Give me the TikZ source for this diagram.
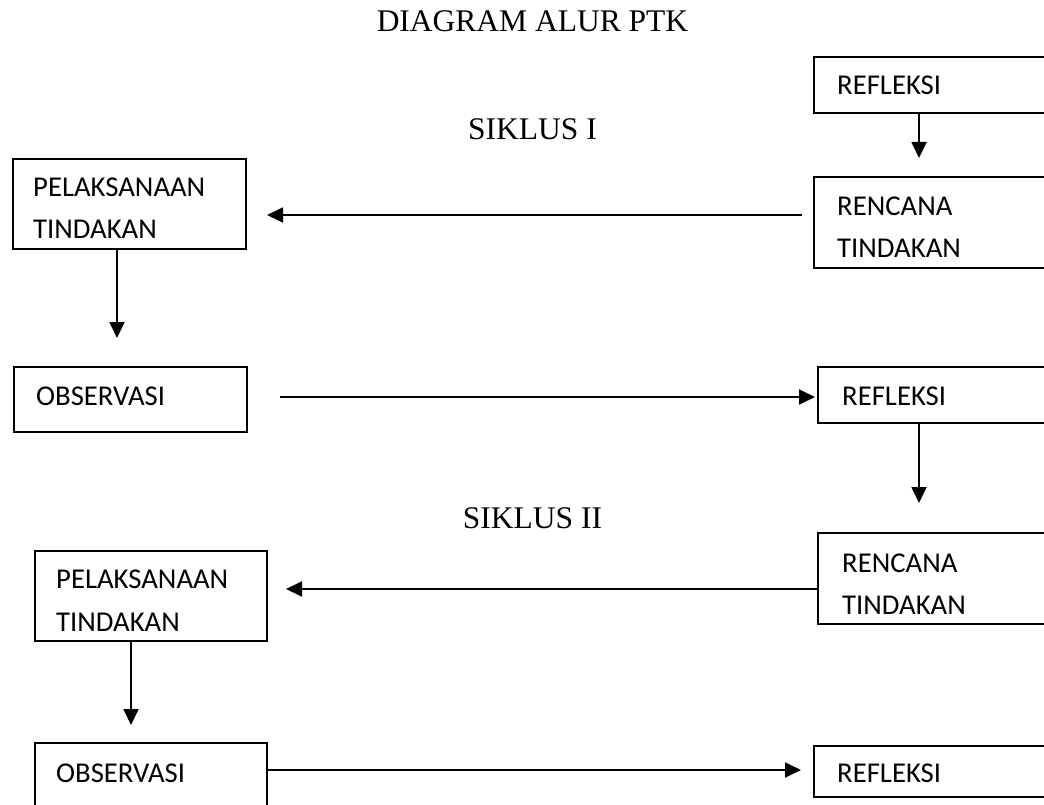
\documentclass[tikz,border=0pt]{standalone}
\usepackage{fontspec}
\setmainfont{Liberation Serif}
\newfontfamily\boxfont{Carlito}
\usetikzlibrary{arrows.meta}
\begin{document}
\begin{tikzpicture}[x=1pt,y=-1pt,
  box/.style={draw, line width=1.8pt, inner sep=0pt, outer sep=0pt, anchor=north west},
  lbl/.style={anchor=base west, inner sep=0pt, font=\boxfont\fontsize{28.7}{28.7}\selectfont},
  ttl/.style={anchor=base, inner sep=0pt, font=\fontsize{31.5}{31.5}\selectfont},
  arr/.style={line width=1.8pt, -{Triangle[length=16pt,width=15pt]}}]
\clip (0,0) rectangle (1044,805);
\fill[white] (0,0) rectangle (1044,805);
% titles
\node[ttl] (title) at (532.5,32) {DIAGRAM ALUR PTK};
\node[ttl] (s1) at (532.5,140) {SIKLUS I};
\node[ttl] (s2) at (532.5,528) {SIKLUS II};
% boxes
\node[box, minimum width=233pt, minimum height=90pt] (P1) at (13,159) {};
\node[box, minimum width=233pt, minimum height=65pt] (O1) at (14,367) {};
\node[box, minimum width=240pt, minimum height=56pt] (R1) at (814,57) {};
\node[box, minimum width=240pt, minimum height=91pt] (RT1) at (814,177) {};
\node[box, minimum width=236pt, minimum height=56pt] (R2) at (818,367) {};
\node[box, minimum width=236pt, minimum height=91pt] (RT2) at (818,533) {};
\node[box, minimum width=232pt, minimum height=90pt] (P2) at (35,551) {};
\node[box, minimum width=232pt, minimum height=80pt] (O2) at (35,743) {};
\node[box, minimum width=240pt, minimum height=51pt] (R3) at (814,746) {};
% texts
\node[lbl] (P1a) at (33,197) {PELAKSANAAN};
\node[lbl] (P1b) at (33,238) {TINDAKAN};
\node[lbl] (O1a) at (36,405) {OBSERVASI};
\node[lbl] (R1a) at (837,95) {REFLEKSI};
\node[lbl] (RT1a) at (837,216) {RENCANA};
\node[lbl] (RT1b) at (837,257) {TINDAKAN};
\node[lbl] (R2a) at (842,405) {REFLEKSI};
\node[lbl] (RT2a) at (842,572) {RENCANA};
\node[lbl] (RT2b) at (842,614) {TINDAKAN};
\node[lbl] (P2a) at (56,588) {PELAKSANAAN};
\node[lbl] (P2b) at (56,631) {TINDAKAN};
\node[lbl] (O2a) at (56,782) {OBSERVASI};
\node[lbl] (R3a) at (837,782) {REFLEKSI};
% connector helper points
\coordinate (c1) at ([xshift=-15pt]R1.south);
\coordinate (c2) at ([yshift=7.5pt]RT1.west);
\coordinate (c3) at ([xshift=-12.5pt]P1.south);
\coordinate (c4) at ([yshift=2.5pt]O1.east);
\coordinate (c5) at ([xshift=-17pt]R2.south);
\coordinate (c6) at ([yshift=-10.5pt]RT2.west);
\coordinate (c7) at ([xshift=-20pt]P2.south);
\coordinate (c8) at ([yshift=13pt]O2.east);
% connectors
\draw[arr, shorten >=19pt] (c1) -- (c1 |- RT1.north);
\draw[arr, shorten <=12pt, shorten >=21pt] (c2) -- (c2 -| P1.east);
\draw[arr, shorten >=29pt] (c3) -- (c3 |- O1.north);
\draw[arr, shorten <=33pt, shorten >=3pt] (c4) -- (c4 -| R2.west);
\draw[arr, shorten >=30pt] (c5) -- (c5 |- RT2.north);
\draw[arr, shorten >=19pt] (c6) -- (c6 -| P2.east);
\draw[arr, shorten >=18pt] (c7) -- (c7 |- O2.north);
\draw[arr, shorten >=13pt] (c8) -- (c8 -| R3.west);
\end{tikzpicture}
\end{document}
